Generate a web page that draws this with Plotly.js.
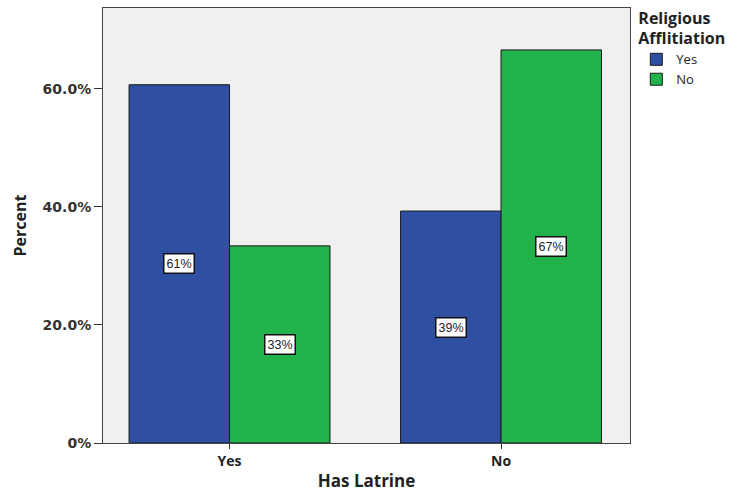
<!DOCTYPE html>
<html>
<head>
<meta charset="utf-8">
<script src="https://cdn.plot.ly/plotly-3.0.1.min.js"></script>
<style>html,body{margin:0;padding:0;background:#fff;}#chart{width:732px;height:493px;}</style>
</head>
<body>
<div id="chart"></div>
<script>
const categories = ["Yes", "No"];
const seriesNames = ["Yes", "No"];
const valuesYes = [60.7, 39.3];
const valuesNo = [33.4, 66.6];
const labelsYes = ["61%", "39%"];
const labelsNo = ["33%", "67%"];
const yTickVals = [0, 20, 40, 60];
const yTickText = ["0%", "20.0%", "40.0%", "60.0%"];

const colors = ["#2f4fa2", "#21b24b"];
const allValues = [valuesYes, valuesNo];
const allLabels = [labelsYes, labelsNo];

const traces = seriesNames.map((name, s) => ({
  type: "bar",
  name: name,
  x: categories,
  y: allValues[s],
  marker: {color: colors[s], line: {color: "#1a1a1a", width: 1}},
  hoverinfo: "skip"
}));

const offset = 0.185;
const annotations = [];
allValues.forEach((vals, s) => {
  vals.forEach((v, i) => {
    annotations.push({
      x: i + (s === 0 ? -offset : offset),
      y: v / 2,
      xref: "x", yref: "y",
      text: allLabels[s][i],
      showarrow: false,
      bgcolor: "#ffffff",
      bordercolor: "#111111",
      borderwidth: 1.5,
      borderpad: 2,
      font: {family: "Arial, Liberation Sans, sans-serif", size: 12.5, color: "#222"}
    });
  });
});

const layout = {
  width: 732, height: 493,
  margin: {l: 103, r: 102, t: 8, b: 50, autoexpand: false},
  paper_bgcolor: "#ffffff",
  plot_bgcolor: "#f0f0f0",
  barmode: "group",
  bargap: 0.26,
  bargroupgap: 0,
  showlegend: true,
  legend: {
    x: 1.012, xanchor: "left", y: 1.012, yanchor: "top",
    title: {text: "<b>Religious<br>Afflitiation</b>", side: "top", font: {family: "Open Sans, sans-serif", size: 16, color: "#222"}},
    font: {family: "Open Sans, sans-serif", size: 13, color: "#222"},
    itemwidth: 30,
    tracegroupgap: 0,
    bgcolor: "rgba(0,0,0,0)"
  },
  xaxis: {
    type: "category",
    range: [-0.466, 1.475],
    showgrid: false,
    ticks: "outside", ticklen: 5, tickcolor: "#333", tickwidth: 1,
    tickfont: {family: "Open Sans, sans-serif", size: 14, color: "#222", weight: "bold"},
    showline: true, linecolor: "#444", linewidth: 1, mirror: true,
    title: {text: "<b>Has Latrine</b>", font: {family: "Open Sans, sans-serif", size: 17, color: "#222"}, standoff: 6},
    fixedrange: true
  },
  yaxis: {
    range: [0, 73.7],
    showgrid: false,
    zeroline: false,
    tickvals: yTickVals,
    ticktext: yTickText,
    ticks: "outside", ticklen: 8, tickcolor: "#333", tickwidth: 1,
    tickfont: {family: "DejaVu Sans, sans-serif", size: 14, color: "#333", weight: "bold"},
    showline: true, linecolor: "#444", linewidth: 1, mirror: true,
    title: {text: "<b>Percent</b>", font: {family: "Open Sans, sans-serif", size: 16, color: "#222"}, standoff: 12},
    fixedrange: true
  },
  annotations: annotations
};

Plotly.newPlot("chart", traces, layout, {displayModeBar: false, staticPlot: true});
</script>
</body>
</html>
